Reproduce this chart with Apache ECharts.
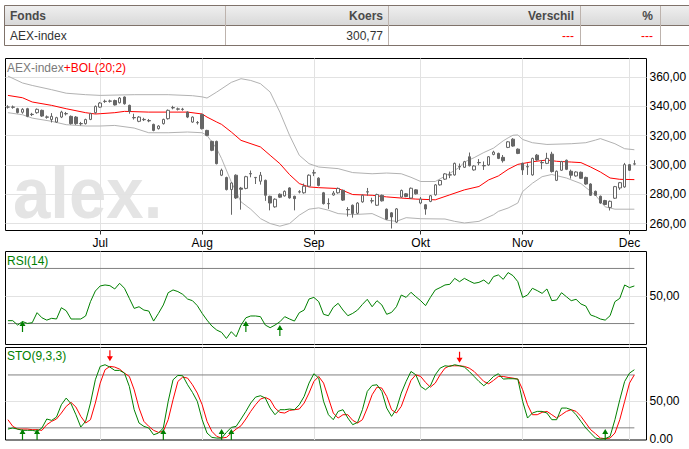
<!DOCTYPE html>
<html>
<head>
<meta charset="utf-8">
<script src="https://cdn.jsdelivr.net/npm/echarts@6/dist/echarts.min.js"></script>
</head>
<body style="margin:0;background:#fff">
<div id="container" style="width:689px;height:449px"></div>
<script type="text/javascript">
var monthNames = ['Jan', 'Feb', 'Mrt', 'Apr', 'Mei', 'Jun', 'Jul', 'Aug', 'Sep', 'Okt', 'Nov', 'Dec'];
var priceTicks = [260, 280, 300, 320, 340, 360];

// AEX-index, 6 jun - 2 dec 2011
var opens = [
  339.5,339.6,338.4,336.0,338.4,334.6,335.7,337.3,332.8,331.0,
  329.3,332.7,335.1,333.2,332.7,328.3,328.2,331.1,335.7,339.5,
  343.3,343.5,344.0,342.5,346.4,340.7,332.4,329.8,331.1,330.3,
  327.7,324.8,328.2,331.6,339.2,338.3,338.1,336.1,329.3,329.0,
  334.5,323.6,316.1,316.1,293.0,291.4,283.2,293.0,284.2,284.0,
  294.1,291.5,288.9,289.5,278.6,271.4,280.0,278.9,284.3,278.6,
  281.7,281.0,285.5,294.7,291.0,281.0,273.7,279.5,281.0,282.7,
  269.6,272.5,267.0,274.8,281.7,275.6,272.5,279.3,269.8,267.3,
  261.0,278.1,280.3,277.4,283.0,274.0,272.8,275.1,279.6,286.4,
  290.3,293.3,293.2,298.9,298.4,305.6,296.6,301.7,299.6,300.0,
  307.2,307.9,305.2,312.0,317.6,310.8,301.1,298.9,293.2,306.7,
  301.7,301.1,307.4,289.5,296.4,303.2,295.7,292.5,295.0,291.5,
  287.0,282.0,278.6,275.7,271.0,277.3,284.3,285.0,300.2,300.6
];
var closes = [
  339.5,339.4,335.8,338.0,333.2,334.4,338.0,333.4,332.6,333.2,
  332.3,336.1,334.9,328.2,328.2,328.1,331.0,335.0,340.0,342.3,
  343.5,343.7,341.0,345.7,341.8,336.6,332.2,332.7,330.9,330.1,
  323.6,326.6,331.1,337.3,339.0,338.1,337.9,332.7,332.7,328.8,
  324.8,320.2,310.0,300.9,296.4,283.2,287.7,277.5,283.4,292.0,
  293.9,291.3,293.0,279.3,274.0,276.6,278.0,282.0,277.5,277.0,
  281.5,285.5,293.0,294.5,286.0,273.6,273.5,280.8,284.0,276.0,
  269.4,266.8,274.0,279.3,281.5,275.4,279.8,275.5,263.0,264.5,
  270.0,282.6,278.5,284.1,280.3,276.7,269.9,279.0,286.4,289.4,
  293.9,293.1,301.1,298.7,302.2,299.5,299.3,301.5,299.4,305.6,
  308.8,304.5,302.9,315.8,312.9,307.9,296.6,298.7,304.5,303.4,
  301.5,304.5,295.5,295.7,302.3,297.0,293.0,295.2,290.9,287.0,
  279.3,279.3,274.0,273.0,275.2,285.2,287.9,300.2,296.4,300.8
];
var lows = [
  338.5,338.4,335.2,335.0,332.6,333.4,335.0,332.8,331.6,329.0,
  328.8,332.0,333.8,327.6,327.4,327.0,327.6,330.6,335.0,339.0,
  342.4,342.6,340.6,342.0,341.2,335.0,331.0,329.2,330.0,329.2,
  323.0,324.2,327.6,331.0,338.0,337.2,337.0,332.0,328.8,327.6,
  324.2,319.6,309.4,300.4,292.4,282.6,266.0,276.8,269.5,283.4,
  291.6,287.0,286.6,275.5,269.0,270.8,277.4,278.4,277.0,269.0,
  280.6,280.4,285.0,292.4,285.4,273.0,270.0,279.0,280.4,275.4,
  264.8,264.0,266.4,274.2,279.0,273.8,272.0,275.0,262.4,256.6,
  260.4,277.5,278.0,276.8,279.8,273.2,266.0,274.6,279.0,285.9,
  289.8,291.0,292.7,296.6,297.9,299.0,296.1,299.8,296.6,299.5,
  306.6,304.0,301.6,311.5,312.4,307.4,293.2,293.2,292.7,302.9,
  297.1,300.6,294.8,289.0,295.9,296.5,290.7,292.0,290.4,286.5,
  278.8,278.8,273.5,272.5,268.9,276.8,283.0,284.4,295.9,299.8
];
var highs = [
  340.8,340.6,339.0,338.8,339.0,335.6,338.6,337.8,333.8,335.4,
  332.9,337.0,336.2,333.8,333.4,329.4,331.6,335.6,340.6,343.0,
  344.6,344.6,344.6,346.4,346.8,341.2,335.0,333.4,332.2,331.4,
  328.2,327.2,331.6,337.9,340.4,339.2,339.0,336.6,333.2,330.0,
  335.0,324.0,316.6,316.6,297.5,292.0,288.2,293.6,285.0,292.6,
  296.2,291.8,295.2,290.0,279.0,277.2,280.6,282.6,284.8,279.0,
  282.8,287.3,293.6,296.8,291.6,281.6,277.2,282.2,284.6,283.2,
  271.2,273.0,274.6,279.8,284.3,277.6,280.4,279.8,270.3,267.8,
  270.6,283.2,280.8,284.6,283.5,278.1,273.3,279.5,287.0,289.9,
  294.4,295.5,301.6,301.0,302.8,308.5,299.8,304.0,302.4,306.1,
  309.7,308.4,306.8,316.3,318.3,311.3,301.6,301.1,305.0,307.5,
  303.4,308.3,309.0,296.2,302.8,303.7,296.8,295.7,295.5,292.0,
  287.5,282.5,279.1,276.2,275.7,285.7,288.4,301.4,300.7,303.2
];

// Bollinger (20;2), [dag, waarde]
var bolUpper = [[0,360.7],[3,356.0],[5,354.3],[9,351.4],[12,349.0],[16,348.0],[19,347.5],[26,348.0],[33,348.0],[38,347.3],[40,346.5],[41,345.7],[43,349.8],[46,356.4],[48,358.9],[50,357.7],[52,355.5],[54,349.8],[56,336.1],[58,320.2],[60,306.6],[62,300.9],[64,298.6],[68,297.5],[71,294.8],[75,294.0],[78,294.5],[81,294.0],[83,291.6],[85,288.7],[88,288.7],[89,290.5],[91,294.3],[93,298.4],[94,302.0],[96,305.0],[98,308.5],[100,311.5],[102,316.5],[103,318.5],[104,320.3],[105,320.5],[106,317.4],[108,315.2],[111,314.0],[116,314.5],[119,315.2],[121,317.0],[122,318.0],[125,314.5],[127,311.1],[129,310.4]];
var bolMid = [[0,347.5],[3,345.9],[5,343.0],[9,340.7],[12,338.4],[16,335.7],[18,334.8],[19,335.0],[22,335.7],[24,336.6],[29,336.1],[37,336.1],[40,334.8],[41,332.7],[43,329.3],[44,327.7],[46,322.5],[48,316.8],[52,312.3],[54,306.6],[56,300.9],[58,293.4],[60,287.3],[62,285.0],[64,284.5],[68,283.9],[71,279.8],[75,279.3],[78,278.2],[81,277.4],[84,276.7],[88,276.2],[91,279.6],[94,283.0],[97,285.3],[99,289.8],[101,292.5],[103,297.0],[105,300.4],[108,302.2],[111,303.4],[113,302.5],[116,302.0],[118,301.6],[120,298.6],[122,295.2],[124,291.1],[126,290.2],[129,290.0]];
var bolLower = [[0,335.7],[3,334.3],[5,332.0],[9,329.8],[12,327.5],[16,326.6],[19,326.6],[22,327.0],[26,325.2],[29,322.0],[33,322.0],[37,322.5],[40,322.0],[41,320.2],[43,311.1],[44,304.3],[46,288.4],[48,274.8],[50,269.8],[52,263.4],[54,260.0],[56,258.2],[58,260.0],[60,265.7],[62,269.8],[64,270.7],[66,269.1],[68,266.8],[71,266.1],[75,266.8],[78,262.3],[80,261.5],[82,264.0],[85,263.3],[90,263.1],[92,261.5],[94,260.4],[97,261.5],[100,266.0],[101,268.3],[103,270.6],[105,274.0],[106,281.9],[108,287.5],[110,292.0],[112,293.5],[115,291.1],[118,287.3],[121,279.3],[123,271.4],[125,269.8],[129,269.8]];

var rsi = [
  32.1,32.1,28.9,31.5,30.1,30.6,37.9,34.2,32.5,33.8,
  33.3,41.5,39.3,33.3,33.3,33.3,35.5,45.9,53.6,57.3,
  58.0,57.5,55.1,59.2,55.6,48.3,41.0,42.2,39.8,39.1,
  31.8,37.4,43.5,52.4,54.4,53.2,51.2,47.8,46.6,43.0,
  37.4,32.5,28.2,25.3,23.6,19.2,24.1,20.4,28.9,34.2,
  35.5,35.5,35.0,28.9,27.0,28.9,31.3,35.0,33.3,31.8,
  37.9,39.8,47.8,49.0,45.9,36.7,35.7,41.8,44.7,39.8,
  35.7,37.4,39.8,43.9,47.6,42.2,46.6,43.5,36.7,38.1,
  42.2,50.7,49.0,52.7,49.5,46.6,43.0,49.0,54.4,56.1,
  58.0,58.5,62.8,60.4,62.8,60.9,59.2,59.9,61.6,58.7,
  64.1,65.3,62.1,67.0,64.8,60.4,49.0,50.7,55.6,53.9,
  51.9,55.1,46.6,47.1,52.4,49.5,46.6,47.6,44.2,42.7,
  36.2,35.0,33.3,32.5,35.7,45.9,48.3,58.0,56.1,57.3
];
var stoK = [
  13.4,14.8,13.4,11.7,11.7,11.7,10.4,14.8,26.7,24.9,
  29.3,45.6,54.4,46.9,32.4,16.1,23.6,47.8,78.6,96.3,
  98.5,95.4,91.0,91.0,87.4,69.8,39.0,21.4,17.0,14.8,
  5.9,8.1,14.8,50.0,78.6,84.4,83.9,72.0,61.9,50.0,
  25.8,8.1,2.4,1.5,1.5,9.0,15.6,17.0,26.7,36.8,
  47.8,55.7,57.5,54.4,41.2,32.4,39.0,39.0,39.9,39.0,
  45.6,56.6,74.2,86.6,80.8,50.0,32.4,25.8,36.8,39.0,
  28.0,19.2,22.2,39.0,63.2,71.1,72.0,63.2,41.2,30.2,
  39.9,61.0,76.4,89.6,85.2,69.8,65.4,70.7,85.2,94.0,
  97.1,96.3,98.5,97.1,95.4,89.6,83.0,76.4,70.7,76.4,
  83.0,86.6,79.5,80.0,80.0,79.5,50.0,28.0,34.6,36.8,
  36.8,34.6,25.8,25.8,41.2,41.2,39.0,32.4,23.6,14.8,
  8.1,1.5,0.2,0.7,3.7,25.8,52.2,76.4,87.4,91.9
];
var stoD = [
  25.8,17.0,13.4,13.4,13.4,12.6,12.6,11.7,19.2,23.6,
  26.7,34.6,43.4,48.7,42.5,30.2,21.4,25.8,47.8,74.2,
  91.9,96.3,95.4,92.7,87.4,83.0,65.4,41.2,23.6,17.0,
  11.7,9.0,10.4,25.8,52.2,76.4,82.2,80.8,72.0,61.0,
  45.6,23.6,10.4,3.7,1.5,2.4,8.1,13.4,17.8,26.7,
  36.8,45.6,53.1,55.3,52.2,41.2,35.5,34.6,38.1,39.0,
  39.9,47.8,61.0,76.4,83.0,74.2,54.4,34.6,28.0,32.4,
  32.4,24.9,21.4,25.8,41.2,58.8,68.9,67.6,56.6,39.0,
  34.6,43.4,61.0,77.8,85.2,83.0,75.1,68.9,74.2,85.2,
  94.0,97.1,97.1,97.1,96.3,94.0,89.6,83.0,76.4,73.3,
  77.8,83.0,83.0,81.7,80.8,79.5,65.4,45.6,32.4,32.4,
  35.5,36.8,32.4,28.0,32.4,36.8,39.0,36.8,30.2,21.4,
  12.6,7.3,1.5,0.7,1.5,8.1,25.8,50.0,74.2,85.2
];

// signalen: [dag, waarde]
var rsiBuy = [[3, 31.8], [49, 31.8], [56, 28.9]];
var stoBuy = [[3, 13.5], [6, 13.5], [32, 13.5], [44, 13.5], [46, 13.5], [123, 13.5]];
var stoSell = [[21, 103], [93, 101]];
var rsiLevels = [70, 30];
var stoLevels = [85, 15];

// handelsdagen (weekdagen) als categorieen
var days = [];
var d = new Date(2011, 5, 6);
var last = new Date(2011, 11, 2);
while (d <= last) {
  if (d.getDay() !== 0 && d.getDay() !== 6) days.push(new Date(d.getTime()));
  d.setDate(d.getDate() + 1);
}
var categories = days.map(function (t) {
  return t.getFullYear() + '-' + (t.getMonth() + 1) + '-' + t.getDate();
});
categories.push(' ', '  ');
var monthStart = days.map(function (t, i) {
  return i > 0 && t.getMonth() !== days[i - 1].getMonth();
});
function isMonth(index) { return !!monthStart[index]; }

var candles = opens.map(function (o, i) { return [o, closes[i], lows[i], highs[i]]; });
var lastIdx = opens.length - 1;

var font = "'Liberation Sans', Arial, sans-serif";
var gridColor = '#e2e2e2';
var levelColor = '#808080';
var green = '#008000';
var red = '#ff0000';
var upArrow = 'path://M3,0L6,5L3.6,5L3.6,11L2.4,11L2.4,5L0,5Z';
var downArrow = 'path://M2.4,0L3.6,0L3.6,6L6,6L3,11L0,6L2.4,6Z';

function comma(v) { return v.toFixed(2).replace('.', ','); }

function makeX(gridIndex, labels) {
  return {
    type: 'category', gridIndex: gridIndex, data: categories, boundaryGap: true,
    axisLine: {show: false},
    axisTick: {show: labels, alignWithLabel: true, interval: isMonth, length: 4, lineStyle: {color: '#333'}},
    axisLabel: {
      show: labels, interval: isMonth, margin: 6, color: '#000', fontSize: 12, fontFamily: font,
      formatter: function (value, index) { return monthNames[days[index].getMonth()]; }
    },
    splitLine: {show: true, alignWithLabel: true, interval: isMonth, lineStyle: {color: gridColor, width: 1}}
  };
}
function makeY(gridIndex, min, max, tickVals, labelVals, fmt) {
  return {
    type: 'value', gridIndex: gridIndex, position: 'right', min: min, max: max,
    axisLine: {show: false},
    axisTick: {show: false, customValues: tickVals},
    axisLabel: {customValues: labelVals, formatter: fmt, margin: 3, color: '#000', fontSize: 12, fontFamily: font},
    splitLine: {show: true, lineStyle: {color: gridColor, width: 1}}
  };
}
function levelSeries(xi, v) {
  return {
    type: 'line', xAxisIndex: xi, yAxisIndex: xi, data: [[0, v], [lastIdx, v]],
    symbol: 'none', silent: true, lineStyle: {color: levelColor, width: 1}, z: 1
  };
}
function lineSeries(xi, data, color, z) {
  return {
    type: 'line', xAxisIndex: xi, yAxisIndex: xi, data: data, symbol: 'none', silent: true,
    lineStyle: {color: color, width: 1}, z: z || 2
  };
}
function arrowSeries(xi, data, symbol, color, offset) {
  return {
    type: 'scatter', xAxisIndex: xi, yAxisIndex: xi, data: data, symbol: symbol,
    symbolSize: [6, 11], symbolOffset: [0, offset], silent: true,
    itemStyle: {color: color, opacity: 1}, z: 5
  };
}

var tableLine = '#7f726a';
var tableSep = '#bdb3ad';
var headFont = 'bold 12px ' + font;
var cellFont = '12px ' + font;

var dom = document.getElementById('container');
var myChart = echarts.init(dom, null, {renderer: 'svg'});
var option = {
  animation: false,
  backgroundColor: '#fff',
  grid: [
    {left: 5.5, top: 58.5, width: 641, height: 172, show: true, borderColor: '#000', borderWidth: 1, outerBoundsMode: 'none'},
    {left: 5.5, top: 251.5, width: 641, height: 93, show: true, borderColor: '#000', borderWidth: 1, outerBoundsMode: 'none'},
    {left: 5.5, top: 347.5, width: 641, height: 92.5, show: true, borderColor: '#000', borderWidth: 1, outerBoundsMode: 'none'}
  ],
  xAxis: [makeX(0, true), makeX(1, false), makeX(2, false)],
  yAxis: [
    makeY(0, 255.25, 372.7, priceTicks, priceTicks, comma),
    makeY(1, 14.8, 82.3, [50], [50], comma),
    makeY(2, -1.06, 121.3, [50], [0, 50], function (v) { return v === 0 ? '0.00' : comma(v); })
  ],
  graphic: [
    // tabel
    {type: 'rect', shape: {x: 4.5, y: 5.5, width: 700, height: 40}, style: {fill: '#fff', stroke: tableLine, lineWidth: 1}},
    {type: 'rect', shape: {x: 5, y: 6, width: 700, height: 19.5},
      style: {fill: new echarts.graphic.LinearGradient(0, 0, 0, 1, [{offset: 0, color: '#efefef'}, {offset: 1, color: '#d8d8d8'}])}},
    {type: 'line', shape: {x1: 5, y1: 25.5, x2: 689, y2: 25.5}, style: {stroke: tableLine, lineWidth: 1}},
    {type: 'line', shape: {x1: 225.5, y1: 6, x2: 225.5, y2: 45}, style: {stroke: tableSep, lineWidth: 1}},
    {type: 'line', shape: {x1: 388.5, y1: 6, x2: 388.5, y2: 45}, style: {stroke: tableSep, lineWidth: 1}},
    {type: 'line', shape: {x1: 580.5, y1: 6, x2: 580.5, y2: 45}, style: {stroke: tableSep, lineWidth: 1}},
    {type: 'line', shape: {x1: 660.5, y1: 6, x2: 660.5, y2: 45}, style: {stroke: tableSep, lineWidth: 1}},
    {type: 'text', x: 10, y: 15.5, style: {text: 'Fonds', font: headFont, fill: '#4a4a4a', verticalAlign: 'middle'}},
    {type: 'text', x: 383, y: 15.5, style: {text: 'Koers', font: headFont, fill: '#4a4a4a', align: 'right', verticalAlign: 'middle'}},
    {type: 'text', x: 574, y: 15.5, style: {text: 'Verschil', font: headFont, fill: '#4a4a4a', align: 'right', verticalAlign: 'middle'}},
    {type: 'text', x: 653, y: 15.5, style: {text: '%', font: headFont, fill: '#4a4a4a', align: 'right', verticalAlign: 'middle'}},
    {type: 'text', x: 10, y: 35.5, style: {text: 'AEX-index', font: cellFont, fill: '#333', verticalAlign: 'middle'}},
    {type: 'text', x: 383, y: 35.5, style: {text: '300,77', font: cellFont, fill: '#333', align: 'right', verticalAlign: 'middle'}},
    {type: 'text', x: 574, y: 35.5, style: {text: '---', font: cellFont, fill: red, align: 'right', verticalAlign: 'middle'}},
    {type: 'text', x: 653, y: 35.5, style: {text: '---', font: cellFont, fill: red, align: 'right', verticalAlign: 'middle'}},
    // watermerk
    {type: 'text', x: 13, y: 193, scaleX: 0.92, z: -10, silent: true,
      style: {text: 'alex.', font: 'bold 73px ' + font, fill: '#e4e4e4', verticalAlign: 'middle'}},
    // paneeltitels
    {type: 'text', x: 7, y: 67.5, z: 10, style: {
      text: '{a|AEX-index}{b|+BOL(20;2)}', verticalAlign: 'middle', font: cellFont,
      rich: {a: {fill: '#7a7a7a', font: cellFont}, b: {fill: red, font: cellFont}}}},
    {type: 'text', x: 7, y: 260.5, z: 10, style: {text: 'RSI(14)', font: cellFont, fill: green, verticalAlign: 'middle'}},
    {type: 'text', x: 7, y: 355.5, z: 10, style: {text: 'STO(9,3,3)', font: cellFont, fill: green, verticalAlign: 'middle'}}
  ],
  series: [
    lineSeries(0, bolUpper, '#b2b2b2'),
    lineSeries(0, bolLower, '#b2b2b2'),
    lineSeries(0, bolMid, red),
    {
      type: 'candlestick', xAxisIndex: 0, yAxisIndex: 0, data: candles, barWidth: 3, z: 3, silent: true,
      itemStyle: {color: '#fff', color0: '#666', borderColor: '#666', borderColor0: '#666', borderWidth: 1}
    },
    levelSeries(1, rsiLevels[0]),
    levelSeries(1, rsiLevels[1]),
    lineSeries(1, rsi, green),
    arrowSeries(1, rsiBuy, upArrow, green, '50%'),
    levelSeries(2, stoLevels[0]),
    levelSeries(2, stoLevels[1]),
    lineSeries(2, stoD, red, 2),
    lineSeries(2, stoK, green, 3),
    arrowSeries(2, stoBuy, upArrow, green, '50%'),
    arrowSeries(2, stoSell, downArrow, red, '-50%')
  ]
};
myChart.setOption(option, true);
</script>
</body>
</html>
